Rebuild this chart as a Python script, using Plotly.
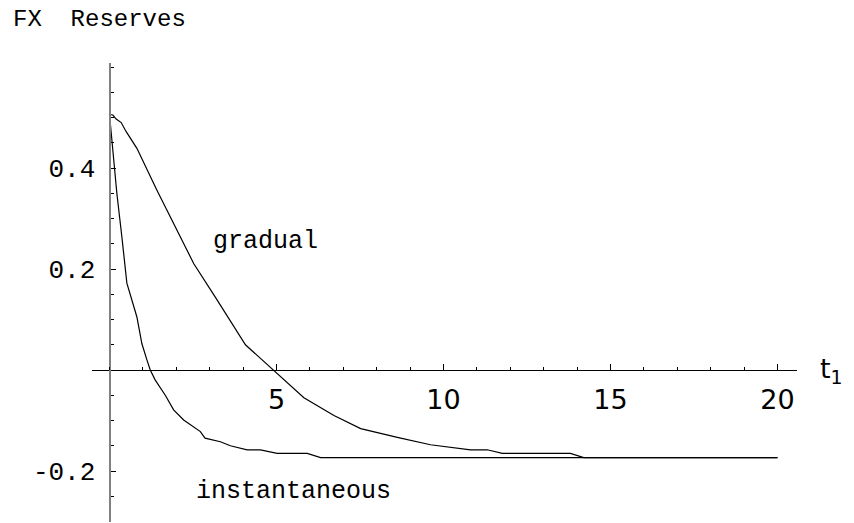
import plotly.graph_objects as go

# Reserve paths over time t1 for the two adjustment schemes
t_gradual = [0, 0.1, 0.2, 0.35, 0.5, 0.82, 1.42, 2.02, 2.52, 3.22, 4.07, 4.52, 4.9,
             5.22, 5.82, 6.72, 7.52, 8.65, 9.61, 10.81, 11.31, 11.76, 13.8, 14.2, 20]
fx_gradual = [0.506, 0.505, 0.497, 0.49, 0.472, 0.439, 0.356, 0.277, 0.211, 0.139, 0.050,
              0.023, 0.0, -0.02, -0.055, -0.09, -0.116, -0.134, -0.148, -0.158, -0.158,
              -0.165, -0.165, -0.1735, -0.1735]

t_instant = [0, 0.22, 0.37, 0.52, 0.82, 0.97, 1.12, 1.22, 1.37, 1.67, 1.92, 2.22, 2.72,
             2.86, 3.32, 3.62, 4.12, 4.52, 5.02, 5.92, 6.32, 20]
fx_instant = [0.506, 0.35, 0.264, 0.172, 0.105, 0.052, 0.02, 0.0, -0.02, -0.05, -0.079,
              -0.099, -0.122, -0.135, -0.142, -0.15, -0.158, -0.158, -0.165, -0.165,
              -0.1735, -0.1735]

x_ticks = [5, 10, 15, 20]
y_ticks = [-0.2, 0.2, 0.4]
y_tick_text = ["-0.2", "0.2", "0.4"]

x_range = [-0.524, 20.584]
y_range = [-0.301, 0.608]

mono = "Liberation Mono, Courier New, monospace"
sans = "DejaVu Sans, Arial, sans-serif"

fig = go.Figure()
for tx, fy in ((t_gradual, fx_gradual), (t_instant, fx_instant)):
    fig.add_trace(go.Scatter(x=tx, y=fy, mode="lines",
                             line=dict(color="black", width=1.2),
                             showlegend=False, hoverinfo="skip"))

# axes cross at the origin, Mathematica style
fig.update_xaxes(
    range=x_range, anchor="free",
    position=(0 - y_range[0]) / (y_range[1] - y_range[0]),
    showline=True, linecolor="black", linewidth=1,
    showgrid=False, zeroline=False,
    tickmode="array", tickvals=x_ticks, ticktext=[str(v) for v in x_ticks],
    ticks="inside", ticklen=6, tickwidth=1, tickcolor="black",
    minor=dict(dtick=1, tick0=0, ticks="inside", ticklen=3, tickcolor="black",
               showgrid=False),
    tickfont=dict(family=sans, size=27, color="black"),
    ticklabelstandoff=6,
)
fig.update_yaxes(
    range=y_range, anchor="free",
    position=(0 - x_range[0]) / (x_range[1] - x_range[0]),
    showline=True, linecolor="#808080", linewidth=2,
    showgrid=False, zeroline=False,
    tickmode="array", tickvals=y_ticks, ticktext=y_tick_text,
    ticks="inside", ticklen=5, tickwidth=1, tickcolor="black",
    minor=dict(dtick=0.05, tick0=0, ticks="inside", ticklen=3, tickcolor="black",
               showgrid=False),
    tickfont=dict(family=mono, size=26, color="black"),
    ticklabelstandoff=8,
)

fig.add_annotation(x=4.67, y=0.255, text="gradual", showarrow=False,
                   font=dict(family=mono, size=25, color="black"))
fig.add_annotation(x=5.5, y=-0.24, text="instantaneous", showarrow=False,
                   font=dict(family=mono, size=25, color="black"))
fig.add_annotation(xref="paper", x=1.0298, y=0, xanchor="left", yanchor="middle",
                   text="t<sub>1</sub>", showarrow=False,
                   font=dict(family=sans, size=27, color="black"))
fig.add_annotation(xref="paper", yref="paper", x=-0.115, y=1.0, yshift=44,
                   xanchor="left", yanchor="middle",
                   text="FX\u00a0\u00a0Reserves", showarrow=False,
                   font=dict(family=mono, size=24, color="black"))

fig.update_layout(
    width=854, height=523,
    margin=dict(l=92, r=57, t=63, b=1),
    paper_bgcolor="white", plot_bgcolor="white",
)

fig.write_html("out.html")
